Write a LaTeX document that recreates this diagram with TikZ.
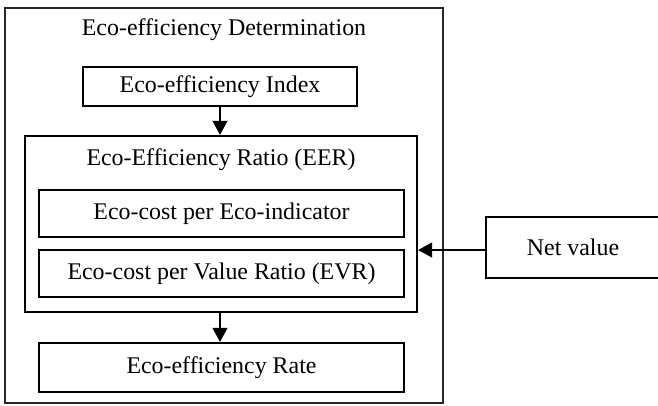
\documentclass[tikz,border=0pt]{standalone}
\usepackage{fontspec}
\setmainfont{Liberation Serif}
\usetikzlibrary{arrows.meta}
\begin{document}
\begin{tikzpicture}[x=1pt,y=-1pt,
  box/.style={draw=black,line width=2.2pt,fill=white,inner sep=0pt,
    font=\fontsize{23.9}{28}\selectfont},
  outerbox/.style={draw=black!85,line width=2pt,inner sep=0pt},
  lbl/.style={inner sep=0pt,font=\fontsize{23.9}{28}\selectfont},
  arr/.style={line width=1.1pt,-{Triangle[width=15pt,length=14pt]}}]
\useasboundingbox (0,0) rectangle (658,405);
\begin{scope}
\clip (0,0) rectangle (658,405);
\node[outerbox,minimum width=438pt,minimum height=395pt] (outer) at (224,205.5) {};
\node[lbl] (title) at (224,30) {Eco-efficiency Determination};
\node[box,minimum width=274pt,minimum height=39pt] (index) at (220,86.5) {Eco-efficiency Index};
\node[box,minimum width=392pt,minimum height=176pt] (eer) at (221,224) {};
\node[lbl] (eertitle) at (221,160) {Eco-Efficiency Ratio (EER)};
\node[box,minimum width=365pt,minimum height=47pt] (ind) at (221.5,213.5) {Eco-cost per Eco-indicator};
\node[box,minimum width=365pt,minimum height=47pt] (evr) at (221.5,273.5) {Eco-cost per Value Ratio (EVR)};
\node[box,minimum width=365pt,minimum height=49pt] (rate) at (221.5,367.5) {Eco-efficiency Rate};
\node[box,minimum width=178pt,minimum height=61pt] (net) at (575,247.5) {};
\node[lbl] (nettext) at (573,247.5) {Net value};
\draw[arr] (index.south) -- (index.south |- eer.north);
\draw[arr] (index.south |- eer.south) -- (index.south |- rate.north);
\coordinate (netin) at ([yshift=-2.5pt]net.west);
\draw[arr] (netin) -- (netin -| eer.east);
\end{scope}
\end{tikzpicture}
\end{document}
